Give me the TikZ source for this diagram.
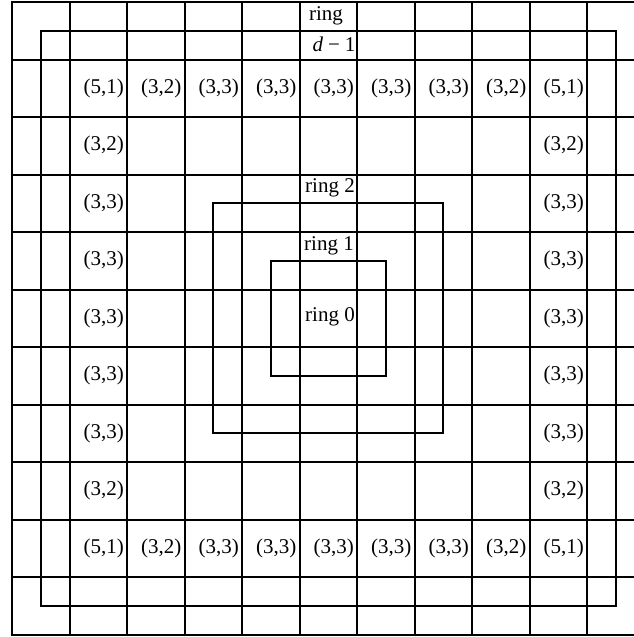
\documentclass[tikz,border=0pt]{standalone}
\usepackage{fontspec}
\setmainfont{Liberation Serif}
\begin{document}
\begin{tikzpicture}[x=1pt,y=-1pt,
  gridline/.style={line width=2pt,black},
  ringline/.style={line width=2pt,black,line join=miter},
  pair/.style={anchor=east,inner sep=0pt,font=\fontsize{21}{24}\selectfont},
  ringlabel/.style={inner sep=0pt,font=\fontsize{21}{24}\selectfont}]
  \useasboundingbox (0,0) rectangle (634,637);
  \clip (0,0) rectangle (634,637);
  % cell size and origin of the grid
  \def\cs{57.5}
  \def\ox{12}
  \def\oy{2}
  % grid of 11 x 11 cells
  \foreach \i in {1,...,10} {
    \draw[gridline] ({\ox+\cs*\i},\oy) -- ({\ox+\cs*\i},{\oy+11*\cs});
    \draw[gridline] (\ox,{\oy+\cs*\i}) -- ({\ox+11*\cs},{\oy+\cs*\i});
  }
  \draw[gridline,line join=miter] (\ox,\oy) rectangle ({\ox+11*\cs},{\oy+11*\cs});
  % rings around the central cell
  \coordinate (ctr) at ({\ox+5.5*\cs},{\oy+5.5*\cs});
  \draw[ringline] ([shift={(-\cs,-\cs)}]ctr) rectangle ([shift={(\cs,\cs)}]ctr);
  \draw[ringline] ([shift={(-2*\cs,-2*\cs)}]ctr) rectangle ([shift={(2*\cs,2*\cs)}]ctr);
  \draw[ringline] ([shift={(-5*\cs,-5*\cs)}]ctr) rectangle ([shift={(5*\cs,5*\cs)}]ctr);
  % ring labels
  \node[ringlabel] (rtop) at (326,16) {ring};
  \node[ringlabel] (rdm1) at (334,44) {\textit{d}\hspace{5pt}−\hspace{5pt}1};
  \node[ringlabel] (r2) at (330,188) {ring 2};
  \node[ringlabel] (r1) at (329,246) {ring 1};
  \node[ringlabel] (r0) at (330,317) {ring 0};
  % degree labels along the top and bottom rows of ring d-1
  \foreach \c/\a/\b in {1/5/1,2/3/2,3/3/3,4/3/3,5/3/3,6/3/3,7/3/3,8/3/2,9/5/1} {
    \node[pair] (t\c) at ({\ox+\cs*(\c+1)-3},{\oy+1.5*\cs}) {(\a,\b)};
    \node[pair] (b\c) at ({\ox+\cs*(\c+1)-3},{\oy+9.5*\cs}) {(\a,\b)};
  }
  % degree labels along the left and right columns
  \foreach \r/\a/\b in {2/3/2,3/3/3,4/3/3,5/3/3,6/3/3,7/3/3,8/3/2} {
    \node[pair] (l\r) at ({\ox+2*\cs-3},{\oy+\cs*(\r+0.5)}) {(\a,\b)};
    \node[pair] (g\r) at ({\ox+10*\cs-3},{\oy+\cs*(\r+0.5)}) {(\a,\b)};
  }
\end{tikzpicture}
\end{document}
